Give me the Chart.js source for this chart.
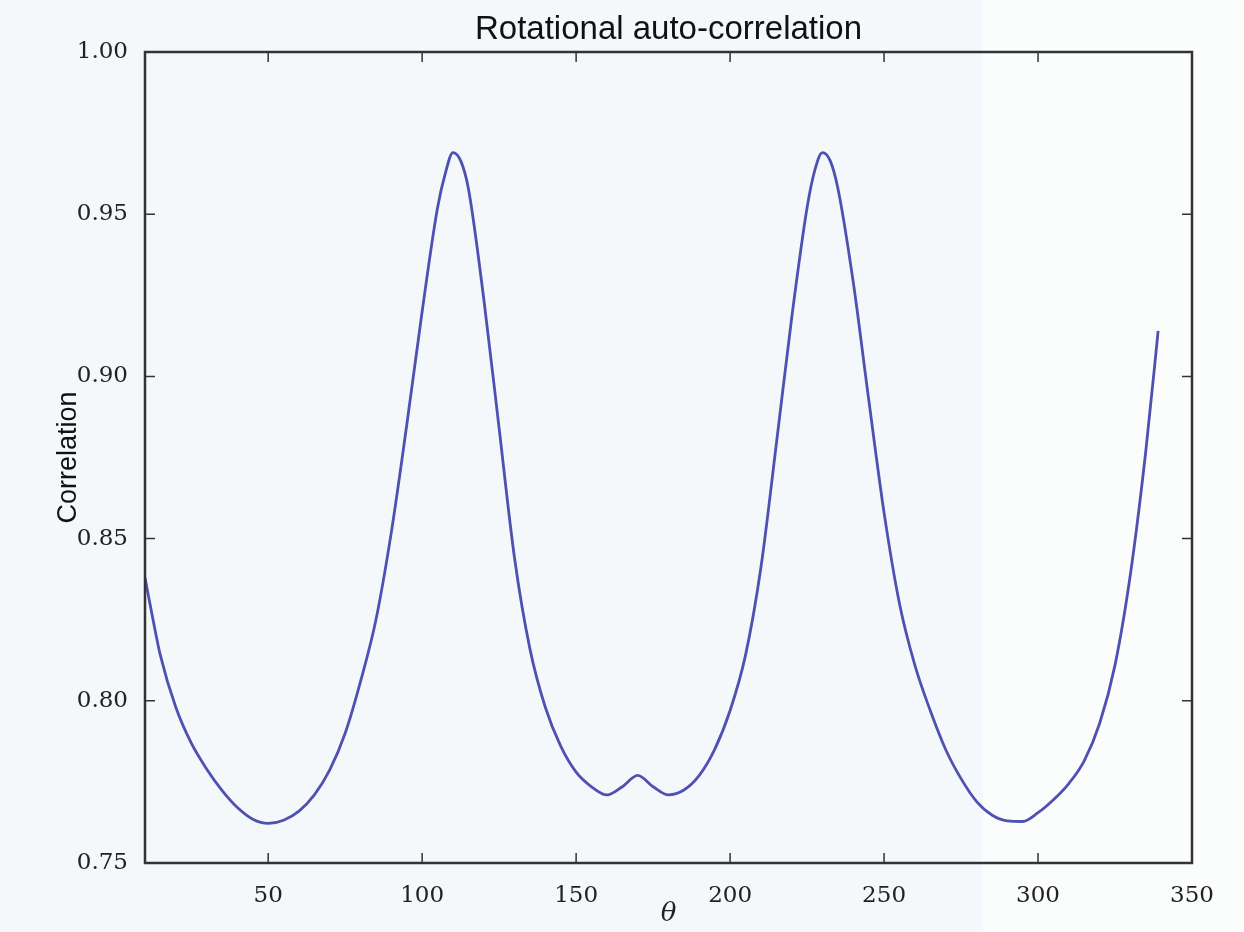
<!DOCTYPE html>
<html>
<head>
<meta charset="utf-8">
<script src="https://cdn.jsdelivr.net/npm/chart.js@4/dist/chart.umd.min.js"></script>
<style>
  html, body { margin: 0; padding: 0; }
  body { background: linear-gradient(to right, #f4f8fb 983px, #fbfcfc 983px); }
  #wrap { width: 1244px; height: 932px; }
</style>
</head>
<body>
<div id="wrap"><canvas id="chart" width="1244" height="932"></canvas></div>
<script>
// rotation angle (degrees) and measured correlation
const thetas = [10, 12, 15, 20, 25, 30, 35, 40, 45, 50, 55, 60, 65, 70, 75, 80, 85, 90, 95, 100,
  105, 107.5, 110, 112.5, 115, 120, 125, 130, 135, 140, 145, 150, 155, 160, 165, 170, 175, 180, 185, 190, 195, 200,
  205, 210, 215, 220, 225, 227.5, 230, 232.5, 235, 240, 245, 250, 255, 260, 265, 270, 275, 280, 285, 290, 295, 300,
  305, 310, 315, 320, 325, 330, 335, 339];
const correlation = [0.838, 0.828, 0.814, 0.798, 0.787, 0.779, 0.7724, 0.7671, 0.7635, 0.7622, 0.7632, 0.766, 0.771, 0.7787, 0.790, 0.806, 0.825, 0.852, 0.885, 0.920,
  0.952, 0.9625, 0.969, 0.9665, 0.958, 0.924, 0.884, 0.844, 0.816, 0.798, 0.786, 0.778, 0.7735, 0.771, 0.7735, 0.777, 0.7735, 0.771, 0.7725, 0.777, 0.785, 0.797,
  0.814, 0.841, 0.879, 0.918, 0.952, 0.9635, 0.969, 0.9665, 0.958, 0.929, 0.893, 0.858, 0.830, 0.811, 0.797, 0.785, 0.776, 0.769, 0.7648, 0.763, 0.7628, 0.7655,
  0.7695, 0.7745, 0.7815, 0.793, 0.811, 0.839, 0.877, 0.914];

const xTicks = [50, 100, 150, 200, 250, 300, 350];
const yTicks = [0.75, 0.80, 0.85, 0.90, 0.95, 1.00];

const frameColor = '#333';

// matplotlib-style box with inward ticks on all four sides
const framePlugin = {
  id: 'frame',
  afterDatasetsDraw(chart) {
    const {ctx, chartArea: a, scales: {x, y}} = chart;
    ctx.save();
    ctx.strokeStyle = frameColor;
    ctx.lineWidth = 1.5;
    const len = 10;
    ctx.beginPath();
    xTicks.forEach(v => {
      const px = x.getPixelForValue(v);
      ctx.moveTo(px, a.bottom); ctx.lineTo(px, a.bottom - len);
      ctx.moveTo(px, a.top); ctx.lineTo(px, a.top + len);
    });
    yTicks.forEach(v => {
      const py = y.getPixelForValue(v);
      ctx.moveTo(a.left, py); ctx.lineTo(a.left + len, py);
      ctx.moveTo(a.right, py); ctx.lineTo(a.right - len, py);
    });
    ctx.stroke();
    ctx.lineWidth = 2.5;
    ctx.strokeRect(a.left, a.top, a.right - a.left, a.bottom - a.top);
    ctx.restore();
  }
};

const tickFont = { family: 'DejaVu Serif', size: 23 };

new Chart(document.getElementById('chart').getContext('2d'), {
  type: 'line',
  data: {
    datasets: [{
      data: thetas.map((t, i) => ({ x: t, y: correlation[i] })),
      borderColor: '#4e50b2',
      borderWidth: 2.8,
      pointRadius: 0,
      cubicInterpolationMode: 'monotone',
      fill: false,
    }],
  },
  options: {
    responsive: false,
    animation: false,
    layout: { padding: { left: 0, right: 52, top: 0, bottom: 0 } },
    plugins: {
      legend: { display: false },
      tooltip: { enabled: false },
      title: {
        display: true,
        text: 'Rotational auto-correlation',
        fullSize: false,
        color: '#111',
        font: { family: 'Liberation Sans', size: 33, weight: 'normal', lineHeight: 1.2 },
        padding: { top: 10, bottom: 2.4 },
      },
    },
    scales: {
      x: {
        type: 'linear',
        min: 10,
        max: 350,
        afterBuildTicks: (s) => { s.ticks = xTicks.map(v => ({ value: v })); },
        afterFit: (s) => { s.height = 69; },
        grid: { display: false },
        border: { display: false },
        ticks: { color: '#222', font: tickFont, padding: 11, maxRotation: 0 },
        title: {
          display: true,
          text: 'θ',
          color: '#222',
          font: { family: 'DejaVu Serif', size: 26, style: 'italic', lineHeight: 1.2 },
          padding: { top: 2, bottom: 2 },
        },
      },
      y: {
        type: 'linear',
        min: 0.75,
        max: 1.0,
        afterBuildTicks: (s) => { s.ticks = yTicks.map(v => ({ value: v })); },
        afterFit: (s) => { s.width = 145; },
        grid: { display: false },
        border: { display: false },
        ticks: { color: '#222', font: tickFont, padding: 9, callback: (v) => v.toFixed(2) },
        title: {
          display: true,
          text: 'Correlation',
          color: '#111',
          font: { family: 'Liberation Sans', size: 27, lineHeight: 1.2 },
          padding: { top: 52, bottom: 52 },
        },
      },
    },
  },
  plugins: [framePlugin],
});
</script>
</body>
</html>
